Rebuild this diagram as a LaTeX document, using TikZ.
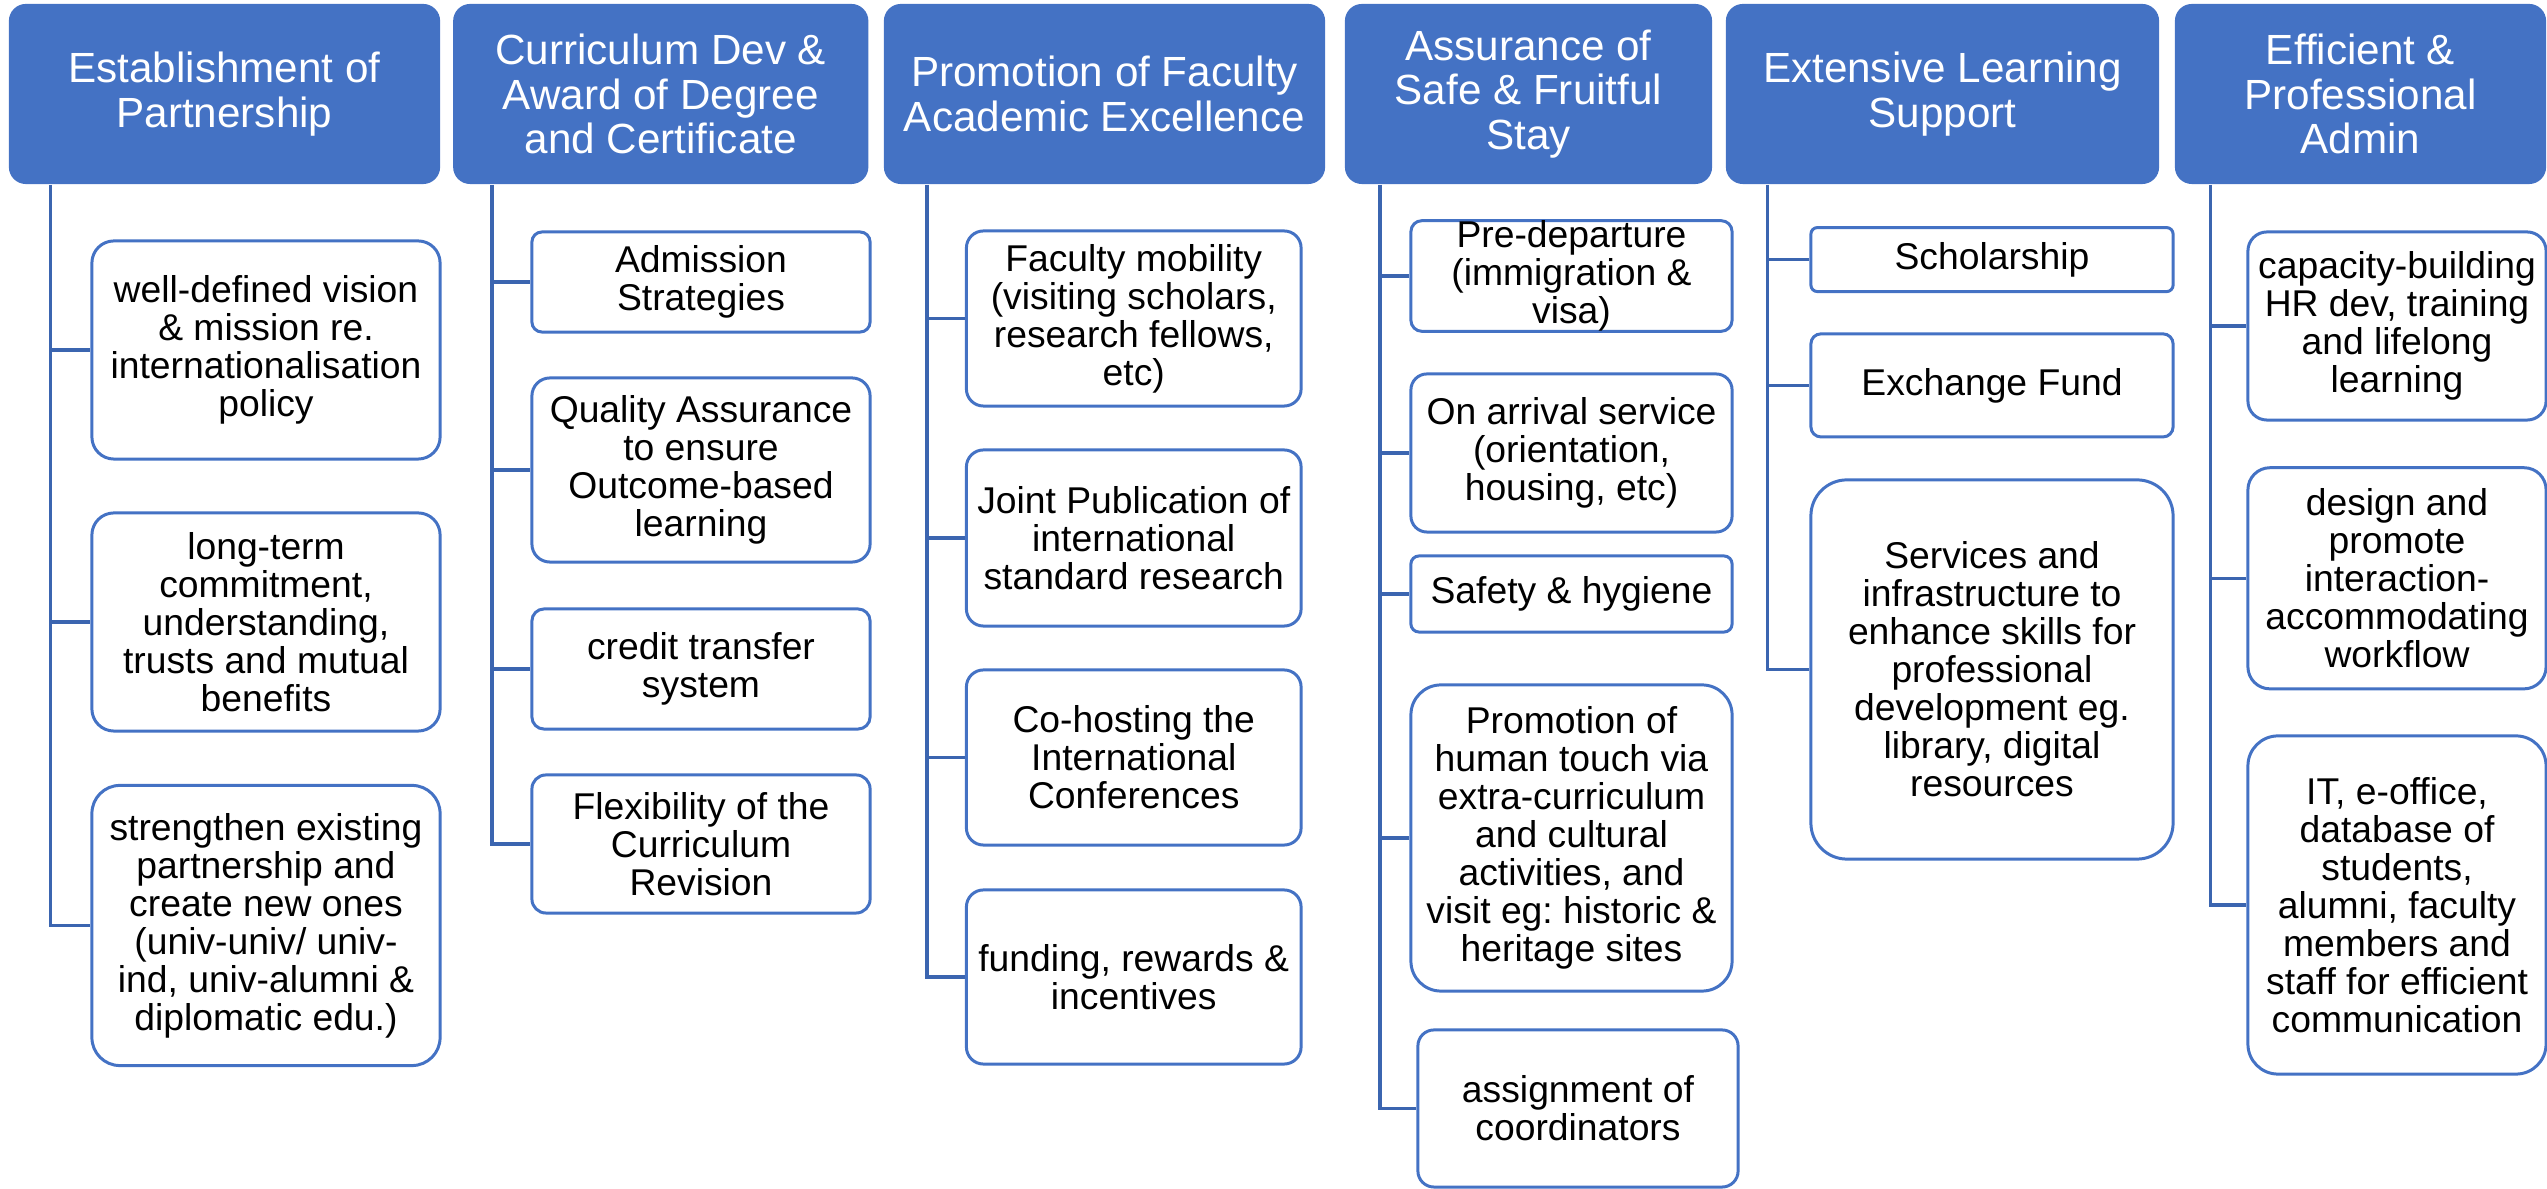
\documentclass[tikz,border=0pt]{standalone}
\usepackage{fontspec}
\setmainfont{Liberation Sans}
\frenchspacing
\definecolor{hdblue}{HTML}{4472C4}
\definecolor{lnblue}{HTML}{3B65B0}
\tikzset{
  headbox/.style={rectangle,rounded corners=0.17cm,fill=hdblue,text=white,align=center,
    inner sep=0pt,font=\fontsize{12}{12.6}\selectfont},
  itembox/.style={rectangle,rounded corners=#1,draw=hdblue,line width=0.85pt,fill=white,
    align=center,inner sep=0pt,font=\fontsize{10.6}{10.8}\selectfont},
  itembox/.default=0.2cm,
  trunk/.style={draw=lnblue,line width=0.9pt}
}
\begin{document}
\begin{tikzpicture}[x=0.01cm,y=-0.01cm]
\useasboundingbox (0,0) rectangle (2547,1189);

% top row
\begin{scope}[every node/.style={headbox,minimum height=1.8cm}]
  \node[minimum width=4.31cm] (h1) at (224.5,94) {Establishment of\\Partnership};
  \node[minimum width=4.15cm] (h2) at (660.75,94) {Curriculum Dev \&\\Award of Degree\\and Certificate};
  \node[minimum width=4.41cm] (h3) at (1104.5,94) {Promotion of Faculty\\Academic Excellence};
  \node[minimum width=3.67cm] (h4) at (1528.5,94) {Assurance of\\Safe \& Fruitful\\Stay};
  \node[minimum width=4.33cm] (h5) at (1942.5,94) {Extensive Learning\\Support};
  \node[minimum width=3.71cm] (h6) at (2360.5,94) {Efficient \&\\Professional\\Admin};
\end{scope}

% partnership
\node[itembox=0.22cm,minimum width=3.48cm,minimum height=2.18cm] (e1) at (266,350)
  {well-defined vision\\\& mission re.\\internationalisation\\policy};
\node[itembox=0.22cm,minimum width=3.48cm,minimum height=2.18cm] (e2) at (266,622)
  {long-term\\commitment,\\understanding,\\trusts and mutual\\benefits};
\node[itembox=0.28cm,minimum width=3.48cm,minimum height=2.8cm] (e3) at (266,925.5)
  {strengthen existing\\partnership and\\create new ones\\(univ-univ/ univ-\\ind, univ-alumni \&\\diplomatic edu.)};

% curriculum
\node[itembox=0.1cm,minimum width=3.38cm,minimum height=1cm] (c1) at (701,282) {Admission\\Strategies};
\node[itembox=0.18cm,minimum width=3.38cm,minimum height=1.84cm] (c2) at (701,470)
  {Quality Assurance\\to ensure\\Outcome-based\\learning};
\node[itembox=0.12cm,minimum width=3.38cm,minimum height=1.2cm] (c3) at (701,669) {credit transfer\\system};
\node[itembox=0.14cm,minimum width=3.38cm,minimum height=1.38cm] (c4) at (701,844)
  {Flexibility of the\\Curriculum\\Revision};

% faculty
\node[itembox=0.17cm,minimum width=3.345cm,minimum height=1.75cm] (f1) at (1133.75,318.5)
  {Faculty mobility\\(visiting scholars,\\research fellows,\\etc)};
\node[itembox=0.17cm,minimum width=3.345cm,minimum height=1.76cm] (f2) at (1133.75,538)
  {Joint Publication of\\international\\standard research};
\node[itembox=0.17cm,minimum width=3.345cm,minimum height=1.75cm] (f3) at (1133.75,757.5)
  {Co-hosting the\\International\\Conferences};
\node[itembox=0.17cm,minimum width=3.345cm,minimum height=1.74cm] (f4) at (1133.75,977)
  {funding, rewards \&\\incentives};

% stay
\node[itembox=0.11cm,minimum width=3.21cm,minimum height=1.1cm] (a1) at (1571.5,276)
  {Pre-departure\\(immigration \&\\visa)};
\node[itembox=0.16cm,minimum width=3.21cm,minimum height=1.58cm] (a2) at (1571.5,453)
  {On arrival service\\(orientation,\\housing, etc)};
\node[itembox=0.08cm,minimum width=3.21cm,minimum height=0.76cm] (a3) at (1571.5,594) {Safety \& hygiene};
\node[itembox=0.3cm,minimum width=3.21cm,minimum height=3.06cm] (a4) at (1571.5,838)
  {Promotion of\\human touch via\\extra-curriculum\\and cultural\\activities, and\\visit eg: historic \&\\heritage sites};
\node[itembox=0.16cm,minimum width=3.2cm,minimum height=1.57cm] (a5) at (1578,1108.5)
  {assignment of\\coordinators};

% learning support
\node[itembox=0.065cm,minimum width=3.62cm,minimum height=0.64cm] (s1) at (1992,259.6) {Scholarship};
\node[itembox=0.1cm,minimum width=3.62cm,minimum height=1.03cm] (s2) at (1992,385.4) {Exchange Fund};
\node[itembox=0.36cm,minimum width=3.62cm,minimum height=3.79cm] (s3) at (1992,669.5)
  {Services and\\infrastructure to\\enhance skills for\\professional\\development eg.\\library, digital\\resources};

% admin
\node[itembox=0.19cm,minimum width=2.98cm,minimum height=1.88cm] (p1) at (2397,326)
  {capacity-building\\HR dev, training\\and lifelong\\learning};
\node[itembox=0.22cm,minimum width=2.98cm,minimum height=2.21cm] (p2) at (2397,578.3)
  {design and\\promote\\interaction-\\accommodating\\workflow};
\node[itembox=0.3cm,minimum width=2.98cm,minimum height=3.38cm] (p3) at (2397,905)
  {IT, e-office,\\database of\\students,\\alumni, faculty\\members and\\staff for efficient\\communication};

% connectors
\coordinate (t1) at (50.5,185);
\coordinate (t2) at (492,185);
\coordinate (t3) at (927,185);
\coordinate (t4) at (1380,185);
\coordinate (t5) at (1767.5,185);
\coordinate (t6) at (2210.5,185);
\draw[trunk] (t1) |- (e1.west) (t1) |- (e2.west) (t1) |- (e3.west);
\draw[trunk] (t2) |- (c1.west) (t2) |- (c2.west) (t2) |- (c3.west) (t2) |- (c4.west);
\draw[trunk] (t3) |- (f1.west) (t3) |- (f2.west) (t3) |- (f3.west) (t3) |- (f4.west);
\draw[trunk] (t4) |- (a1.west) (t4) |- (a2.west) (t4) |- (a3.west) (t4) |- (a4.west) (t4) |- (a5.west);
\draw[trunk] (t5) |- (s1.west) (t5) |- (s2.west) (t5) |- (s3.west);
\draw[trunk] (t6) |- (p1.west) (t6) |- (p2.west) (t6) |- (p3.west);
\end{tikzpicture}
\end{document}
